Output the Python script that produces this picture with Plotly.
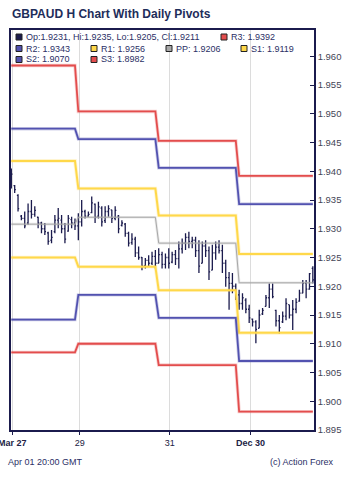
import plotly.graph_objects as go

# ---------------- data ----------------
opens = [1.9400, 1.9375, 1.9358, 1.9322, 1.9318, 1.9310, 1.9330, 1.9325, 1.9320, 1.9310,
         1.9300, 1.9293, 1.9280, 1.9295, 1.9315, 1.9315, 1.9300, 1.9296, 1.9316, 1.9310,
         1.9305, 1.9312, 1.9330, 1.9322, 1.9328, 1.9343, 1.9322, 1.9336, 1.9314, 1.9330,
         1.9333, 1.9318, 1.9322, 1.9306, 1.9308, 1.9292, 1.9276, 1.9282, 1.9258, 1.9250,
         1.9236, 1.9245, 1.9240, 1.9252, 1.9240, 1.9255, 1.9238, 1.9250, 1.9242, 1.9255,
         1.9248, 1.9265, 1.9275, 1.9285, 1.9278, 1.9280, 1.9262, 1.9240, 1.9270, 1.9262,
         1.9228, 1.9258, 1.9268, 1.9262, 1.9240, 1.9215, 1.9205, 1.9200, 1.9185, 1.9170,
         1.9176, 1.9160, 1.9143, 1.9138, 1.9127, 1.9152, 1.9165, 1.9180, 1.9195, 1.9158,
         1.9140, 1.9138, 1.9148, 1.9168, 1.9150, 1.9160, 1.9174, 1.9188, 1.9205, 1.9195,
         1.9231]
highs = [1.9405, 1.9376, 1.9360, 1.9324, 1.9330, 1.9344, 1.9350, 1.9339, 1.9321, 1.9312,
         1.9310, 1.9295, 1.9298, 1.9324, 1.9336, 1.9324, 1.9310, 1.9324, 1.9321, 1.9318,
         1.9327, 1.9350, 1.9333, 1.9330, 1.9356, 1.9344, 1.9347, 1.9339, 1.9339, 1.9341,
         1.9333, 1.9339, 1.9324, 1.9315, 1.9310, 1.9295, 1.9292, 1.9286, 1.9269, 1.9251,
         1.9249, 1.9254, 1.9260, 1.9263, 1.9266, 1.9260, 1.9257, 1.9266, 1.9260, 1.9263,
         1.9278, 1.9283, 1.9292, 1.9295, 1.9286, 1.9286, 1.9280, 1.9278, 1.9280, 1.9269,
         1.9272, 1.9278, 1.9280, 1.9272, 1.9246, 1.9225, 1.9223, 1.9205, 1.9194, 1.9188,
         1.9179, 1.9168, 1.9144, 1.9141, 1.9159, 1.9162, 1.9185, 1.9205, 1.9205, 1.9159,
         1.9150, 1.9156, 1.9179, 1.9168, 1.9176, 1.9179, 1.9194, 1.9211, 1.9211, 1.9223,
         1.9235]
lows = [1.9370, 1.9362, 1.9330, 1.9315, 1.9301, 1.9307, 1.9318, 1.9321, 1.9301, 1.9292,
        1.9289, 1.9272, 1.9275, 1.9292, 1.9301, 1.9292, 1.9275, 1.9295, 1.9301, 1.9298,
        1.9280, 1.9304, 1.9318, 1.9321, 1.9327, 1.9310, 1.9318, 1.9304, 1.9310, 1.9321,
        1.9310, 1.9315, 1.9292, 1.9304, 1.9286, 1.9269, 1.9272, 1.9251, 1.9246, 1.9228,
        1.9231, 1.9234, 1.9237, 1.9231, 1.9240, 1.9231, 1.9231, 1.9231, 1.9240, 1.9237,
        1.9231, 1.9257, 1.9263, 1.9266, 1.9266, 1.9251, 1.9223, 1.9240, 1.9251, 1.9211,
        1.9228, 1.9246, 1.9257, 1.9223, 1.9199, 1.9159, 1.9188, 1.9176, 1.9159, 1.9159,
        1.9153, 1.9136, 1.9130, 1.9101, 1.9127, 1.9150, 1.9165, 1.9162, 1.9179, 1.9130,
        1.9118, 1.9136, 1.9141, 1.9144, 1.9124, 1.9153, 1.9173, 1.9188, 1.9179, 1.9194,
        1.9205]
closes = [1.9395, 1.9368, 1.9335, 1.9318, 1.9305, 1.9330, 1.9325, 1.9332, 1.9310, 1.9300,
          1.9295, 1.9278, 1.9285, 1.9315, 1.9318, 1.9300, 1.9282, 1.9318, 1.9310, 1.9305,
          1.9312, 1.9330, 1.9322, 1.9325, 1.9345, 1.9320, 1.9338, 1.9312, 1.9330, 1.9335,
          1.9318, 1.9332, 1.9300, 1.9310, 1.9292, 1.9275, 1.9282, 1.9258, 1.9250, 1.9235,
          1.9245, 1.9240, 1.9252, 1.9240, 1.9255, 1.9238, 1.9250, 1.9240, 1.9255, 1.9248,
          1.9265, 1.9275, 1.9285, 1.9278, 1.9280, 1.9262, 1.9235, 1.9270, 1.9262, 1.9225,
          1.9258, 1.9268, 1.9262, 1.9240, 1.9215, 1.9205, 1.9200, 1.9185, 1.9170, 1.9180,
          1.9160, 1.9145, 1.9138, 1.9125, 1.9150, 1.9158, 1.9180, 1.9195, 1.9182, 1.9140,
          1.9128, 1.9148, 1.9170, 1.9150, 1.9160, 1.9172, 1.9188, 1.9205, 1.9195, 1.9222,
          1.9211]

# daily pivot levels (one value per day) and bars per day
day_bars = [20, 24, 24, 23]
R3 = [1.9584, 1.9504, 1.9453, 1.9392]
R2 = [1.9474, 1.9456, 1.9406, 1.9343]
R1 = [1.9418, 1.9370, 1.9323, 1.9256]
PP = [1.9308, 1.9320, 1.9275, 1.9206]
S1 = [1.9250, 1.9234, 1.9193, 1.9119]
S2 = [1.9142, 1.9185, 1.9145, 1.9070]
S3 = [1.9085, 1.9100, 1.9063, 1.8982]

tick_pos = [0.3, 20.4, 47.3, 71.4]
tick_labels = ["<b>Mar 27</b>", "29", "31", "<b>Dec 30</b>"]
y_ticks = [1.895, 1.900, 1.905, 1.910, 1.915, 1.920, 1.925, 1.930,
           1.935, 1.940, 1.945, 1.950, 1.955, 1.960]

# ---------------- figure ----------------
W, H = 350, 481
L, R, T, B = 11, 36, 30, 51
PW, PH = W - L - R, H - T - B

def fx(px):
    return (px - L) / PW

def fy(py):
    return (H - B - py) / PH

xs = list(range(len(closes)))

def expand(levels):
    out = []
    for v, n in zip(levels, day_bars):
        out += [v] * n
    return out

RED, BLUE, YEL, GRAY, NAVY = "#e34d4d", "#5252b0", "#ffd84a", "#a8a8a8", "#1b1b4d"

fig = go.Figure()

pivots = [(R3, RED, 1.8), (R2, BLUE, 1.8), (R1, YEL, 2.0), (PP, GRAY, 1.0),
          (S1, YEL, 2.0), (S2, BLUE, 1.8), (S3, RED, 1.8)]
for lev, col, w in pivots:
    ys = expand(lev)
    fig.add_trace(go.Scatter(x=xs, y=ys, mode="lines", line=dict(color=col, width=w + 1.6),
                             opacity=0.25, hoverinfo="skip", showlegend=False))
    fig.add_trace(go.Scatter(x=xs, y=ys, mode="lines", line=dict(color=col, width=w),
                             hoverinfo="skip", showlegend=False))

fig.add_trace(go.Ohlc(x=xs, open=opens, high=highs, low=lows, close=closes,
                      increasing=dict(line=dict(color=NAVY, width=1.3)),
                      decreasing=dict(line=dict(color=NAVY, width=1.3)),
                      tickwidth=0.35, hoverinfo="skip", showlegend=False))

TXT = "#2b2f66"
fig.update_layout(
    width=W, height=H, margin=dict(l=L, r=R, t=T, b=B),
    paper_bgcolor="white", plot_bgcolor="white", showlegend=False,
    font=dict(family="Liberation Sans, Arial, sans-serif", size=9, color=TXT),
    xaxis=dict(range=[-0.1, 90.35], tickvals=tick_pos, ticktext=tick_labels,
               showgrid=True, gridcolor="#dcdcdc", gridwidth=1, zeroline=False,
               showline=True, linecolor=NAVY, linewidth=1.5, mirror=True,
               ticks="outside", ticklen=3, tickcolor=NAVY, ticklabeloverflow="allow",
               tickfont=dict(size=9, color="#222244"), rangeslider=dict(visible=False),
               automargin=False),
    yaxis=dict(range=[1.895, 1.96457], side="right", tickvals=y_ticks, tickformat=".3f",
               showgrid=False, zeroline=False, showline=True, linecolor=NAVY, linewidth=1.5,
               mirror=True, ticks="inside", ticklen=4, tickcolor=NAVY,
               tickfont=dict(size=9.5, color="#444455"), automargin=False),
)

# title and footer
ann = [
    dict(text="<b>GBPAUD H Chart With Daily Pivots</b>", x=fx(10), y=fy(14), xanchor="left",
         yanchor="middle", font=dict(size=12, color="#1e2d5a")),
    dict(text="Apr 01 20:00 GMT", x=fx(6), y=fy(462), xanchor="left", yanchor="middle",
         font=dict(size=9, color=TXT)),
    dict(text="(c) Action Forex", x=fx(336), y=fy(462), xanchor="right", yanchor="middle",
         font=dict(size=9, color=TXT)),
]

# custom legend rows
ohlc_txt = "Op:%.4f, Hi:%.4f, Lo:%.4f, Cl:%.4f" % (opens[-1], highs[-1], lows[-1], closes[-1])
items = [
    (ohlc_txt, NAVY, 16, 37),
    ("R3: %.4f" % R3[-1], RED, 221, 37),
    ("R2: %.4f" % R2[-1], BLUE, 16, 48.5),
    ("R1: %.4f" % R1[-1], YEL, 91, 48.5),
    ("PP: %.4f" % PP[-1], GRAY, 166, 48.5),
    ("S1: %.4f" % S1[-1], YEL, 241, 48.5),
    ("S2: %.4f" % S2[-1], BLUE, 16, 59.5),
    ("S3: %.4f" % S3[-1], RED, 91, 59.5),
]
shapes = []
for txt, col, sx, sy in items:
    shapes.append(dict(type="rect", xref="paper", yref="paper",
                       x0=fx(sx), x1=fx(sx + 6), y0=fy(sy - 3), y1=fy(sy + 3),
                       fillcolor=col, line=dict(color="#222222", width=1)))
    ann.append(dict(text=txt, x=fx(sx + 8), y=fy(sy), xanchor="left", yanchor="middle",
                    font=dict(size=9, color=TXT)))

for a in ann:
    a.update(xref="paper", yref="paper", showarrow=False)
fig.update_layout(annotations=ann, shapes=shapes)

fig.write_html("out.html")
